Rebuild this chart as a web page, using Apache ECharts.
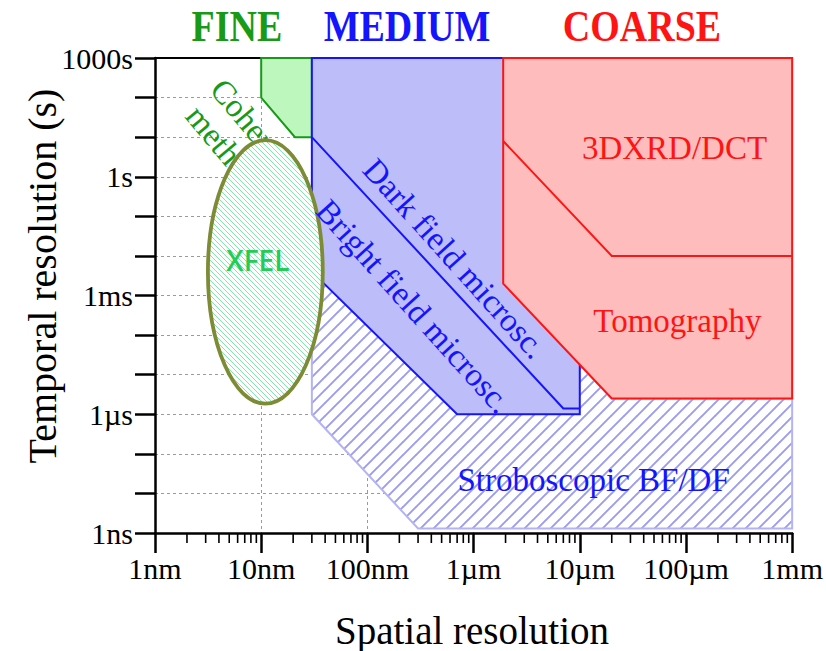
<!DOCTYPE html>
<html><head><meta charset="utf-8">
<script src="https://cdn.jsdelivr.net/npm/echarts@6/dist/echarts.min.js"></script>
<style>html,body{margin:0;padding:0;background:#fff}#chart{width:826px;height:651px}</style>
</head><body><div id="chart"></div>
<script>
// ---------- axis ticks ----------
const xTickValuesNm = [1, 10, 100, 1e3, 1e4, 1e5, 1e6];
const xTickLabels = ['1nm', '10nm', '100nm', '1µm', '10µm', '100µm', '1mm'];
const yTickValuesS = [1e-9, 1e-6, 1e-3, 1, 1e3];
const yTickLabels = ['1ns', '1µs', '1ms', '1s', '1000s'];
const minorFactors = [2, 3, 4, 5, 6, 7, 8, 9];

// ---------- regions (spatial nm, temporal s) ----------
const coherentNm = [10, 30, 30, 20.8, 10];
const coherentS = [1000, 1000, 10, 10, 100];
const microscopyNm = [30, 10000, 10000, 700, 30];
const microscopyS = [1000, 1000, 1e-6, 1e-6, 4e-3];
const darkFieldNm = [30, 7000, 10000];
const darkFieldS = [10, 1.4e-6, 1.4e-6];
const coarseNm = [1900, 1e6, 1e6, 20000, 1900];
const coarseS = [1000, 1000, 2.5e-6, 2.5e-6, 2e-3];
const dctNm = [1900, 20000, 1e6];
const dctS = [8, 0.01, 0.01];
const stroboNm = [30, 30, 300, 1e6, 1e6, 20000, 1900];
const stroboS = [4e-3, 1e-6, 1.3e-9, 1.3e-9, 2.5e-6, 2.5e-6, 2e-3];
const xfelNm = [3.15, 38];
const xfelS = [1.85e-6, 8.4];

const groupTitles = ['FINE', 'MEDIUM', 'COARSE'];
const regionLabels = ['Coherent\nmethods', 'XFEL', 'Dark field microsc.', 'Bright field microsc.', '3DXRD/DCT', 'Tomography', 'Stroboscopic BF/DF'];

// ---------- helpers ----------
const L = Math.log10;
const pts = (nm, s) => nm.map((v, i) => [L(v), L(s[i])]);
const SERIF = '"Liberation Serif", "Times New Roman", serif';

function hatch(size, color, lw, dir) {
  const c = document.createElement('canvas');
  c.width = size; c.height = size;
  const g = c.getContext('2d');
  g.fillStyle = '#fff'; g.fillRect(0, 0, size, size);
  g.strokeStyle = color; g.lineWidth = lw; g.lineCap = 'square';
  g.beginPath();
  for (const k of [-size, 0, size]) {
    if (dir === '/') { g.moveTo(k, size); g.lineTo(k + size, 0); }
    else { g.moveTo(k, 0); g.lineTo(k + size, size); }
  }
  g.stroke();
  return { image: c, repeat: 'repeat', imageWidth: size, imageHeight: size };
}

function shapeSeries(name, points, style, z, closed) {
  return {
    type: 'custom', name, coordinateSystem: 'cartesian2d', clip: false, silent: true, z,
    data: [[0, 0]],
    renderItem: (params, api) => ({
      type: closed ? 'polygon' : 'polyline',
      shape: { points: points.map(p => api.coord(p)) },
      style
    })
  };
}

function textSeries(name, items, z) {
  return {
    type: 'custom', name, coordinateSystem: 'cartesian2d', clip: false, silent: true, z,
    data: [[0, 0]],
    renderItem: (params, api) => ({
      type: 'group',
      children: items.map(it => {
        const p = api.coord([L(it.at[0]), L(it.at[1])]);
        return {
          type: 'text', x: p[0], y: p[1], rotation: (it.rot || 0) * Math.PI / 180,
          style: { text: it.text, fill: it.color, font: it.font, align: 'center', verticalAlign: 'middle', lineHeight: it.lh }
        };
      })
    })
  };
}

const GREEN = '#189a18', BLUE = '#1414ff', RED = '#ff1414';

const minorTicks = [];
for (let d = 0; d < 6; d++) minorFactors.forEach(f => minorTicks.push([L(f * Math.pow(10, d)), -9]));

const chart = echarts.init(document.getElementById('chart'), null, { renderer: 'svg', width: 826, height: 651 });

const titleStyle = (t, c) => ({ text: t, fill: c, font: 'bold 38px ' + SERIF, align: 'center', verticalAlign: 'middle' });

const option = {
  animation: false,
  backgroundColor: '#fff',
  grid: { left: 155, top: 58, width: 638, height: 475, containLabel: false },
  xAxis: [{
    type: 'value', min: 0, max: 6, interval: 1, position: 'bottom',
    axisLine: { show: true, onZero: false, lineStyle: { color: '#000', width: 2.5 } },
    axisTick: { show: true, length: 20, lineStyle: { color: '#000', width: 2.5 } },
    axisLabel: {
      margin: 20, fontSize: 30, fontFamily: SERIF, color: '#000',
      formatter: v => { const j = xTickValuesNm.findIndex(t => Math.round(L(t)) === Math.round(v)); return j >= 0 ? xTickLabels[j] : ''; }
    },
    splitLine: { show: true, lineStyle: { color: '#9a9a9a', width: 1, type: [3, 3] } }
  }, {
    type: 'value', min: 0, max: 6, position: 'top',
    axisLine: { show: true, onZero: false, lineStyle: { color: '#000', width: 2 } },
    axisTick: { show: false }, axisLabel: { show: false }, splitLine: { show: false }
  }],
  yAxis: {
    type: 'value', min: -9, max: 3, interval: 1,
    axisLine: { show: true, onZero: false, lineStyle: { color: '#000', width: 2.5 } },
    axisTick: { show: true, length: 20, lineStyle: { color: '#000', width: 2.5 } },
    axisLabel: {
      margin: 22, fontSize: 30, fontFamily: SERIF, color: '#000',
      formatter: v => { const j = yTickValuesS.findIndex(t => Math.round(L(t)) === Math.round(v)); return j >= 0 ? yTickLabels[j] : ''; }
    },
    splitLine: { show: true, lineStyle: { color: '#9a9a9a', width: 1, type: [3, 3] } }
  },
  graphic: [
    { type: 'text', x: 237, y: 27, scaleY: 1.15, style: titleStyle(groupTitles[0], GREEN) },
    { type: 'text', x: 407, y: 27, scaleY: 1.15, style: titleStyle(groupTitles[1], BLUE) },
    { type: 'text', x: 642, y: 27, scaleY: 1.15, style: titleStyle(groupTitles[2], RED) },
    { type: 'text', x: 42, y: 276, rotation: Math.PI / 2, style: { text: 'Temporal resolution (s)', fill: '#000', font: '40px ' + SERIF, align: 'center', verticalAlign: 'middle' } },
    { type: 'text', x: 472, y: 630, style: { text: 'Spatial resolution', fill: '#000', font: '39px ' + SERIF, align: 'center', verticalAlign: 'middle' } }
  ],
  series: [
    {
      type: 'custom', name: 'minor ticks', coordinateSystem: 'cartesian2d', clip: false, silent: true, z: 1,
      data: minorTicks,
      renderItem: (params, api) => {
        const p = api.coord([api.value(0), api.value(1)]);
        return { type: 'line', shape: { x1: p[0], y1: p[1], x2: p[0], y2: p[1] + 10 }, style: { stroke: '#000', lineWidth: 1.6 } };
      }
    },
    shapeSeries('Stroboscopic BF/DF', pts(stroboNm, stroboS), { fill: hatch(13, '#9c9cee', 1.9, '/'), stroke: '#b4b4f4', lineWidth: 2 }, 2, true),
    textSeries('coherent label', [{ text: regionLabels[0], at: [6.6, 7.9], rot: -50, color: GREEN, font: '33px ' + SERIF, lh: 36 }], 3),
    shapeSeries('Coherent methods', pts(coherentNm, coherentS), { fill: '#bdf7bd', stroke: GREEN, lineWidth: 2 }, 4, true),
    shapeSeries('Bright/Dark field microscopy', pts(microscopyNm, microscopyS), { fill: '#bdbdfa', stroke: BLUE, lineWidth: 2 }, 5, true),
    shapeSeries('Dark field limit', pts(darkFieldNm, darkFieldS), { fill: null, stroke: BLUE, lineWidth: 2 }, 6, false),
    shapeSeries('Tomography', pts(coarseNm, coarseS), { fill: '#ffbcbc', stroke: RED, lineWidth: 2 }, 7, true),
    shapeSeries('3DXRD/DCT limit', pts(dctNm, dctS), { fill: null, stroke: RED, lineWidth: 2 }, 8, false),
    {
      type: 'custom', name: 'XFEL', coordinateSystem: 'cartesian2d', clip: false, silent: true, z: 9,
      data: [[0, 0]],
      renderItem: (params, api) => {
        const a = api.coord([L(xfelNm[0]), L(xfelS[1])]);
        const b = api.coord([L(xfelNm[1]), L(xfelS[0])]);
        return {
          type: 'ellipse',
          shape: { cx: (a[0] + b[0]) / 2, cy: (a[1] + b[1]) / 2, rx: Math.abs(b[0] - a[0]) / 2, ry: Math.abs(b[1] - a[1]) / 2 },
          style: { fill: hatch(5, '#6fe4a2', 0.9, '\\'), stroke: '#7d8b34', lineWidth: 3.8 }
        };
      }
    },
    textSeries('labels', [
      { text: regionLabels[1], at: [9.3, 8.1e-3], color: '#22cc55', font: '600 28px "Open Sans", sans-serif' },
      { text: regionLabels[2], at: [664, 8.6e-3], rot: -48, color: BLUE, font: '33px ' + SERIF },
      { text: regionLabels[3], at: [273, 5.3e-4], rot: -48, color: BLUE, font: '33px ' + SERIF },
      { text: regionLabels[4], at: [78000, 5.3], color: RED, font: '33px ' + SERIF },
      { text: regionLabels[5], at: [83000, 2.3e-4], color: RED, font: '33px ' + SERIF },
      { text: regionLabels[6], at: [13500, 2.2e-8], color: BLUE, font: '33px ' + SERIF }
    ], 10)
  ]
};
chart.setOption(option);
</script>
</body></html>
